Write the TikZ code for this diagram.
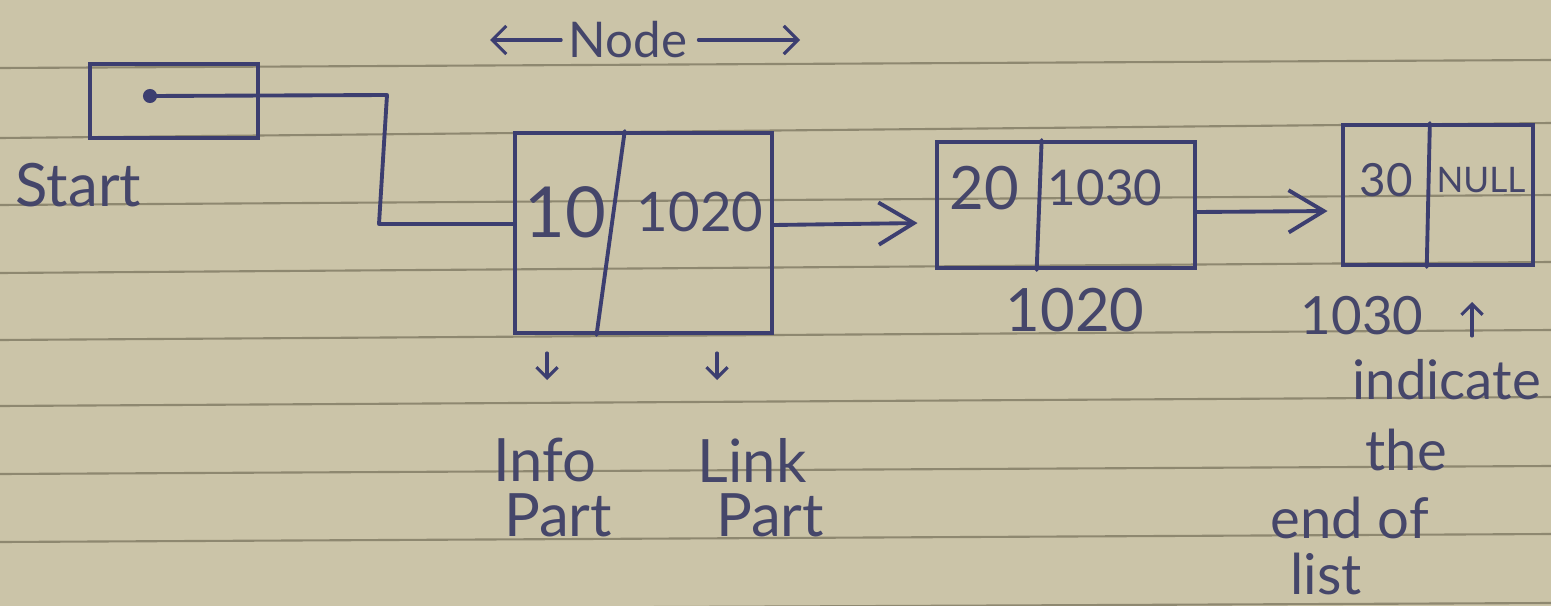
\documentclass[tikz,border=0pt]{standalone}
\usepackage{fontspec}
\setmainfont{Lato}
\usetikzlibrary{arrows.meta,fit,calc}
\definecolor{paper}{HTML}{CBC4A8}
\definecolor{rulecol}{HTML}{8E8870}
\definecolor{ink}{HTML}{3C3E70}
\definecolor{pencil}{HTML}{45466A}
\begin{document}
\begin{tikzpicture}[x=0.01cm,y=-0.01cm,
  box/.style={draw=ink,line width=1.1pt,inner sep=0pt},
  pen/.style={draw=ink,line width=1.1pt,line cap=round,line join=round},
  arr/.style={pen,-{Straight Barb[length=10pt,width=12pt,line width=1.1pt]}},
  sarr/.style={pen,line width=0.9pt,-{Straight Barb[length=3pt,width=6pt,line width=0.9pt]}},
  marr/.style={pen,line width=0.9pt,-{Straight Barb[length=4pt,width=8pt,line width=0.9pt]}},
  txt/.style={text=pencil,inner sep=0pt,font=\fontsize{17}{20}\selectfont},
  ruled/.style={draw=rulecol,line width=0.6pt}]
\fill[paper] (0,0) rectangle (1551,606);
\useasboundingbox (0,0) rectangle (1551,606);
\clip (0,0) rectangle (1551,606);
\foreach \a/\b in {68/60,138/123,205/195,273/262,340/330,406/397,474/466,542/534,610/603}
  \draw[ruled] (0,\a) -- (1551,\b);

% header
\node[txt,font=\fontsize{14}{16}\selectfont] (nodelbl) at (628,40) {Node};
\coordinate (hl) at (490,40);
\coordinate (hr) at (800,40);
\draw[marr] ([xshift=-2pt]nodelbl.west) -- (hl);
\draw[marr] ([xshift=3pt]nodelbl.east) -- (hr);

% start pointer
\node[box,fit={(90,64)(258,138)}] (sbox) {};
\node[circle,fill=ink,inner sep=0pt,minimum size=4pt] (dot) at (150,96) {};
\node[txt,anchor=west] (start) at (15,185) {Start};

% node 1
\node[box,fit={(515,133)(772,333)}] (n1) {};
\draw[pen] ($(n1.north west)!0.428!(n1.north east)$) -- ($(n1.south west)!0.32!(n1.south east)$);
\node[txt,font=\fontsize{20}{22}\selectfont] (v1) at (565,212) {10};
\node[txt,font=\fontsize{15.5}{18}\selectfont] (l1) at (700,212) {1020};

% node 2
\node[box,fit={(937,142)(1195,268)}] (n2) {};
\draw[pen] ($(n2.north west)!0.407!(n2.north east)$) -- ($(n2.south west)!0.388!(n2.south east)$);
\node[txt,font=\fontsize{17}{20}\selectfont] (v2) at (984,188) {20};
\node[txt,font=\fontsize{14}{17}\selectfont] (l2) at (1105,188) {1030};
\node[txt,font=\fontsize{17}{20}\selectfont] (a2) at (1075,310) {1020};

% node 3
\node[box,fit={(1343,125)(1533,265)}] (n3) {};
\draw[pen] ($(n3.north west)!0.458!(n3.north east)$) -- ($(n3.south west)!0.442!(n3.south east)$);
\node[txt,font=\fontsize{13}{15}\selectfont] (v3) at (1386,180) {30};
\node[txt,font=\fontsize{10}{12}\selectfont] (l3) at (1481,180) {NULL};
\node[txt,font=\fontsize{15}{18}\selectfont] (a3) at (1362,316) {1030};

% connectors
\coordinate (bend1) at (387,95);
\coordinate (bend2) at (379,224);
\draw[pen] (dot.center) -- (bend1) -- (bend2) -- (n1.west |- bend2);
\coordinate (y1) at (0,225);
\coordinate (y2) at (0,212);
\draw[arr,shorten >=1pt] (n1.east |- y1) -- ($(n2.west)+(-14,18)$);
\draw[arr,shorten >=1pt] (n2.east |- y2) -- ($(n3.west)+(-10,16)$);

% part labels
\coordinate (d1) at (547,353);
\coordinate (d2) at (717,353);
\node[txt] (info) at (545,460) {Info};
\node[txt] (ipart) at (558,515) {Part};
\node[txt] (link) at (752,460) {Link};
\node[txt] (lpart) at (770,515) {Part};
\draw[sarr] (d1) -- ++(0,27);
\draw[sarr] (d2) -- ++(0,27);

% end note
\coordinate (u1) at (1472,336);
\coordinate (u2) at (1472,302);
\draw[sarr] (u1) -- (u2);
\node[txt,anchor=west,font=\fontsize{15.5}{18}\selectfont] (ind) at (1352,380) {indicate};
\node[txt,anchor=west,font=\fontsize{16}{18}\selectfont] (the) at (1365,450) {the};
\node[txt,anchor=west,font=\fontsize{16}{18}\selectfont] (endof) at (1270,518) {end of};
\node[txt,anchor=west,font=\fontsize{16}{18}\selectfont] (list) at (1290,574) {list};
\end{tikzpicture}
\end{document}
